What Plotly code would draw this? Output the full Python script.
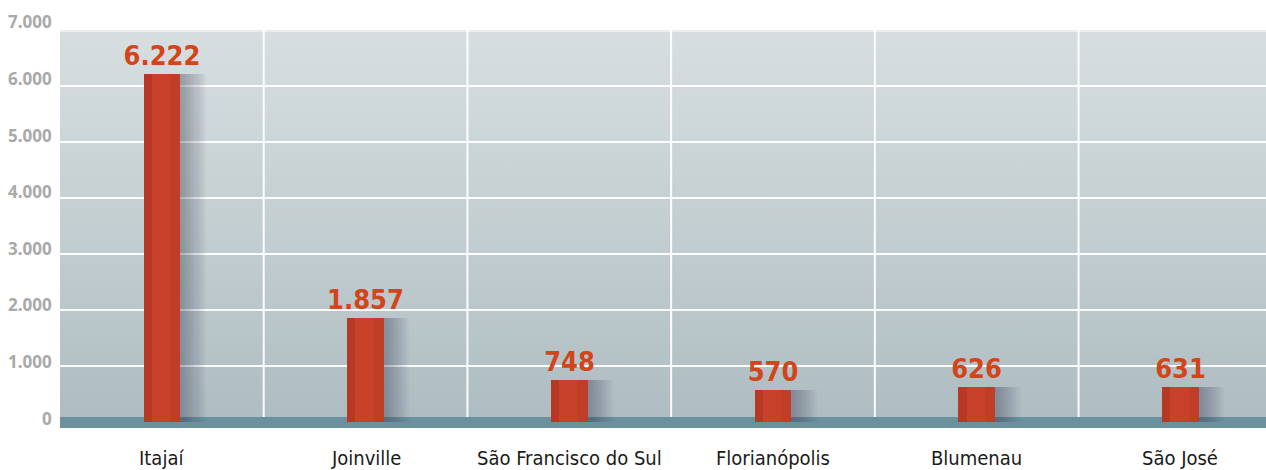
import plotly.graph_objects as go

categories = ["Itajaí", "Joinville", "São Francisco do Sul", "Florianópolis", "Blumenau", "São José"]
values = [6222, 1857, 748, 570, 626, 631]
y_ticks = [0, 1000, 2000, 3000, 4000, 5000, 6000, 7000]
y_tick_labels = ["0", "1.000", "2.000", "3.000", "4.000", "5.000", "6.000", "7.000"]

X0, X1 = -0.5, 5.42
Y0, Y1 = -107, 7000
BAND_TOP = 90
idx = list(range(len(categories)))
BW = 0.18
COND = "Noto Sans Condensed, DejaVu Sans Condensed, Roboto Condensed, Noto Sans"

fig = go.Figure()

# background gradient (main axes, drawn underneath)
fig.add_trace(go.Scatter(
    x=[X0, X1, X1, X0, X0], y=[Y0, Y0, Y1, Y1, Y0], mode="lines", line=dict(width=0),
    fill="toself",
    fillgradient=dict(type="vertical", colorscale=[[0, "#adbcc1"], [0.5, "#c3ced1"], [1, "#d7dee0"]]),
    hoverinfo="skip", showlegend=False))

# horizontal gridlines
gx, gy = [], []
for t in y_ticks[1:-1]:
    gx += [X0, X1, None]
    gy += [t, t, None]
fig.add_trace(go.Scatter(x=gx, y=gy, mode="lines", line=dict(color="rgba(255,255,255,0.95)", width=2),
                         hoverinfo="skip", showlegend=False))
fig.add_trace(go.Scatter(x=[X0, X1], y=[y_ticks[-1] - 20, y_ticks[-1] - 20], mode="lines",
                         line=dict(color="rgba(255,255,255,0.45)", width=2),
                         hoverinfo="skip", showlegend=False))

# vertical separators
vx, vy = [], []
for i in idx[:-1]:
    vx += [i + 0.5, i + 0.5, None]
    vy += [BAND_TOP, Y1, None]
fig.add_trace(go.Scatter(x=vx, y=vy, mode="lines", line=dict(color="rgba(255,255,255,0.95)", width=2),
                         hoverinfo="skip", showlegend=False))

# bottom band
fig.add_trace(go.Scatter(
    x=[X0, X1, X1, X0, X0], y=[Y0, Y0, BAND_TOP, BAND_TOP, Y0], mode="lines", line=dict(width=0),
    fill="toself", fillcolor="#6b909e", hoverinfo="skip", showlegend=False))

# bar shadows (overlay axes, drawn above)
for k in range(12):
    extra = 0.12 - 0.01 * k
    fig.add_trace(go.Bar(x=idx, y=values, width=BW + extra, offset=-BW / 2 + 0.005,
                         xaxis="x2", yaxis="y2",
                         marker=dict(color="rgba(55,65,75,0.035)", line=dict(width=0)),
                         hoverinfo="skip", showlegend=False))

# main bars
fig.add_trace(go.Bar(
    x=idx, y=values, width=BW, offset=-BW / 2, xaxis="x2", yaxis="y2",
    marker=dict(color="#c8412b", line=dict(width=0)),
    text=[f"{v:,}".replace(",", ".") for v in values],
    textposition="outside", cliponaxis=False, constraintext="none",
    textfont=dict(family=COND, size=27, color="#d2451a", weight="bold"),
    hovertemplate="%{y}<extra></extra>", showlegend=False))
# left darker strip
fig.add_trace(go.Bar(x=idx, y=values, width=0.04, offset=-BW / 2, xaxis="x2", yaxis="y2",
                     marker=dict(color="rgba(150,40,25,0.35)", line=dict(width=0)),
                     hoverinfo="skip", showlegend=False))
# right subtle darker
fig.add_trace(go.Bar(x=idx, y=values, width=0.05, offset=BW / 2 - 0.05, xaxis="x2", yaxis="y2",
                     marker=dict(color="rgba(150,40,25,0.15)", line=dict(width=0)),
                     hoverinfo="skip", showlegend=False))

annotations = []
for t, lab in zip(y_ticks, y_tick_labels):
    annotations.append(dict(x=0, xref="paper", y=t, yref="y", text=lab, showarrow=False,
                            xanchor="right", yanchor="middle", xshift=-6, yshift=4 + 0.6 * t / 1000,
                            font=dict(family="Noto Sans", size=17, color="#a9a9a9", weight="bold")))
for i, c in zip(idx, categories):
    annotations.append(dict(x=i, xref="x", y=0, yref="paper", text=c, showarrow=False,
                            xanchor="center", yanchor="middle", yshift=-30,
                            font=dict(family=COND, size=20, color="#1a1a1a")))

axis_common = dict(showgrid=False, zeroline=False, showticklabels=False, ticks="", fixedrange=True)
fig.update_layout(
    width=1266, height=470,
    margin=dict(l=60, r=0, t=30, b=42),
    paper_bgcolor="white", plot_bgcolor="rgba(0,0,0,0)",
    barmode="overlay", bargap=0,
    xaxis=dict(range=[X0, X1], **axis_common),
    yaxis=dict(range=[Y0, Y1], **axis_common),
    xaxis2=dict(range=[X0, X1], overlaying="x", **axis_common),
    yaxis2=dict(range=[Y0, Y1], overlaying="y", **axis_common),
    annotations=annotations,
)

fig.write_html("out.html", config={"displayModeBar": False},
               post_script="document.body.style.margin='0';document.body.style.padding='0';")
